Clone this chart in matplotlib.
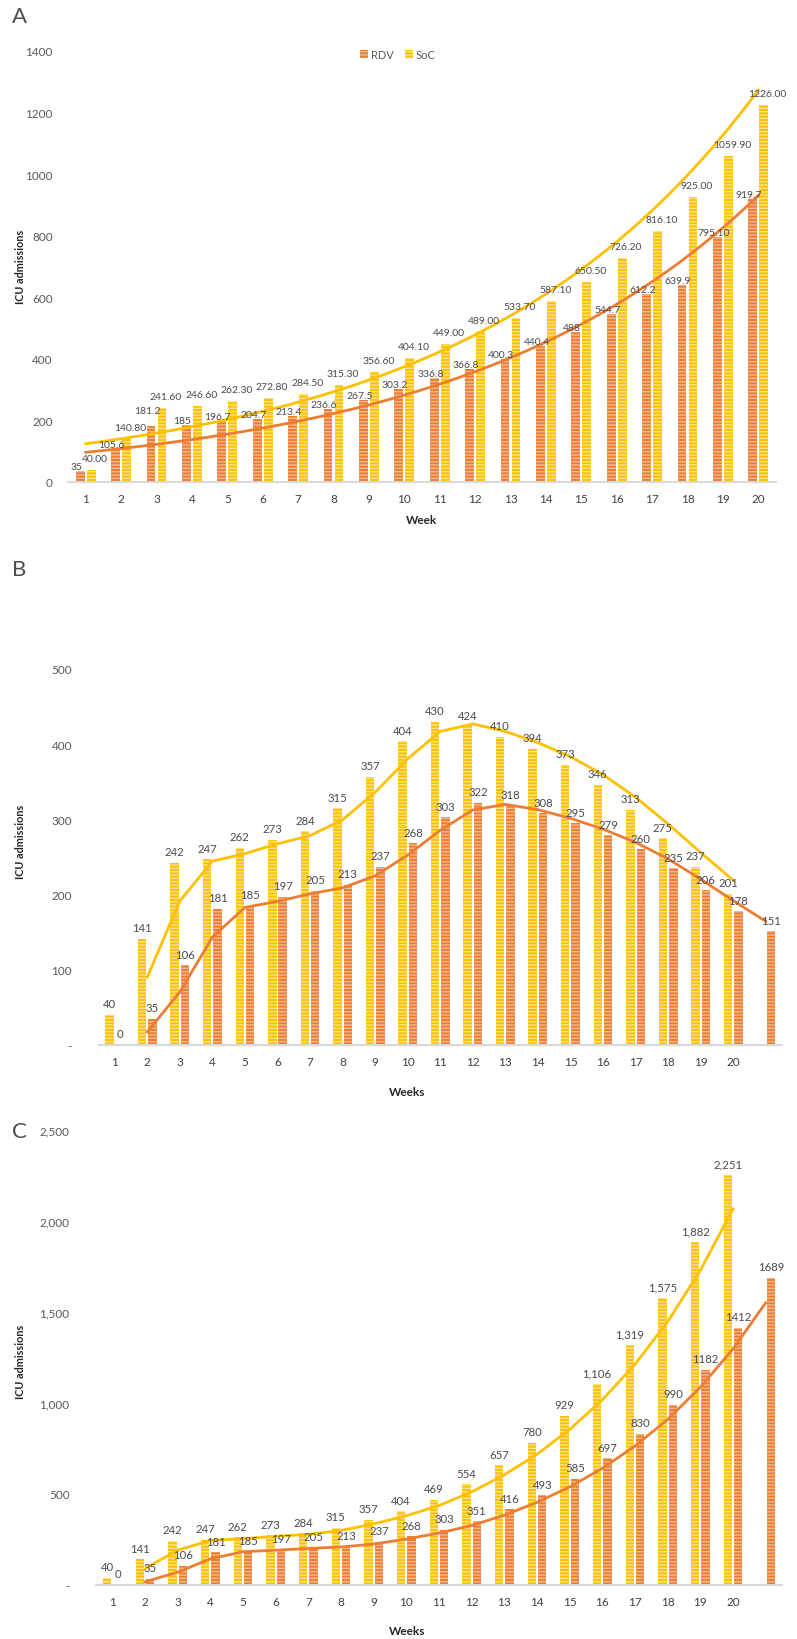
import numpy as np
import matplotlib
matplotlib.use('Agg')
import matplotlib.pyplot as plt
from matplotlib.patches import Patch
from matplotlib.ticker import FuncFormatter

plt.rcParams['font.family'] = ['Lato', 'DejaVu Sans']
plt.rcParams['hatch.linewidth'] = 1.0

# Panel A data
weeks_a = np.arange(1, 21)
rdv_a = [35, 105.6, 181.2, 185, 196.7, 204.7, 213.4, 236.6, 267.5, 303.2,
         336.8, 366.8, 400.3, 440.4, 488, 544.7, 612.2, 639.9, 795.1, 919.7]
rdv_a_labels = ['35', '105.6', '181.2', '185', '196.7', '204.7', '213.4', '236.6', '267.5', '303.2',
                '336.8', '366.8', '400.3', '440.4', '488', '544.7', '612.2', '639.9', '795.10', '919.7']
soc_a = [40.00, 140.80, 241.60, 246.60, 262.30, 272.80, 284.50, 315.30, 356.60, 404.10,
         449.00, 489.00, 533.70, 587.10, 650.50, 726.20, 816.10, 925.00, 1059.90, 1226.00]

# Panel B data
soc_b = [40, 141, 242, 247, 262, 273, 284, 315, 357, 404,
         430, 424, 410, 394, 373, 346, 313, 275, 237, 201]
rdv_b = [0, 35, 106, 181, 185, 197, 205, 213, 237, 268,
         303, 322, 318, 308, 295, 279, 260, 235, 206, 178, 151]

# Panel C data
soc_c = [40, 141, 242, 247, 262, 273, 284, 315, 357, 404,
         469, 554, 657, 780, 929, 1106, 1319, 1575, 1882, 2251]
rdv_c = [0, 35, 106, 181, 185, 197, 205, 213, 237, 268,
         303, 351, 416, 493, 585, 697, 830, 990, 1182, 1412, 1689]

ORANGE = '#ED7D31'
ORANGE_HATCH = '#F6B98E'
YELLOW = '#FFC000'
YELLOW_HATCH = '#FFE38A'
GREY = '#595959'
LABEL_GREY = '#4A4A4A'

W, H = 797, 1640
fig = plt.figure(figsize=(W / 100, H / 100), dpi=100)


def px_axes(x0, x1, y_top, y_bot):
    """Axes from pixel box (x0..x1, y_top..y_bot)."""
    return fig.add_axes([x0 / W, 1 - y_bot / H, (x1 - x0) / W, (y_bot - y_top) / H])


def style_axes(ax):
    for s in ['left', 'top', 'right']:
        ax.spines[s].set_visible(False)
    ax.spines['bottom'].set_color('#D9D9D9')
    ax.spines['bottom'].set_linewidth(1.5)
    ax.tick_params(length=0, labelsize=8.5, labelcolor=GREY)
    ax.tick_params(axis='x', pad=8, labelcolor='#404040')


def striped_bars(ax, x, vals, width, color, hatch_color):
    ax.bar(x, vals, width, color=color, edgecolor=hatch_color,
           hatch='-----', linewidth=0)


def add_labels(ax, x, vals, labels, size=8.5, dy=2, nudge=None):
    nudge = nudge or {}
    for i, (xi, v, t) in enumerate(zip(x, vals, labels)):
        ax.annotate(t, (xi, v), xytext=(0, dy + nudge.get(i, 0)), textcoords='offset points',
                    ha='center', va='bottom', fontsize=size, color=LABEL_GREY)


def moving_avg(vals):
    v = np.array(vals, dtype=float)
    return np.arange(2, len(v) + 1), (v[1:] + v[:-1]) / 2


def accounting(v, pos):
    return '-' if v == 0 else f'{int(v):,}'


# ---------------- Panel A ----------------
axA = px_axes(68, 776, 52, 483)
off, bw = 0.155, 0.25
striped_bars(axA, weeks_a - off, rdv_a, bw, ORANGE, ORANGE_HATCH)
striped_bars(axA, weeks_a + off, soc_a, bw, YELLOW, YELLOW_HATCH)
# labels pushed a little apart, as in the original (181.2 sits higher there)
add_labels(axA, weeks_a - off - 0.11, rdv_a, rdv_a_labels, 7.5, dy=0, nudge={2: 8})
add_labels(axA, weeks_a + off + 0.11, soc_a, [f'{v:.2f}' for v in soc_a], 7.5, dy=5)

# exponential trendlines
xs = np.linspace(1, 20, 200)
for vals, c in [(soc_a, YELLOW), (rdv_a, ORANGE)]:
    k = np.polyfit(weeks_a, np.log(vals), 1)
    axA.plot(xs, np.exp(np.polyval(k, xs)), color=c, lw=2)

axA.set_xlim(0.5, 20.5)
axA.set_ylim(0, 1400)
axA.set_xticks(weeks_a)
axA.set_yticks(range(0, 1401, 200))
style_axes(axA)
axA.tick_params(axis='y', pad=11)

handles = [Patch(facecolor=ORANGE, edgecolor=ORANGE_HATCH, hatch='-----', linewidth=0, label='RDV'),
           Patch(facecolor=YELLOW, edgecolor=YELLOW_HATCH, hatch='-----', linewidth=0, label='SoC')]
axA.legend(handles=handles, loc='center', bbox_to_anchor=(0.466, 0.993), ncol=2,
           frameon=False, handlelength=0.7, handleheight=0.7, handletextpad=0.3,
           columnspacing=1.0, fontsize=8, labelcolor=GREY)


def panel_bc(ax, soc, rdv, ymax, ystep, rdv_labels, soc_labels):
    n = len(rdv)
    x_s = np.arange(1, len(soc) + 1)
    x_r = np.arange(1, n + 1)
    off, bw = 0.16, 0.26
    striped_bars(ax, x_s - off, soc, bw, YELLOW, YELLOW_HATCH)
    striped_bars(ax, x_r + off, rdv, bw, ORANGE, ORANGE_HATCH)
    add_labels(ax, x_s - off, soc, soc_labels, 8.2, dy=4)
    add_labels(ax, x_r + off, rdv, rdv_labels, 8.2, dy=4)
    # 2-period moving average trendlines
    mx, my = moving_avg(soc)
    ax.plot(mx, my, color=YELLOW, lw=2)
    mx, my = moving_avg(rdv)
    ax.plot(mx, my, color=ORANGE, lw=2)
    ax.set_xlim(0.5, n + 0.5)
    ax.set_ylim(0, ymax)
    ax.set_xticks(range(1, 21))
    ax.set_yticks(np.arange(0, ymax + 1, ystep))
    ax.yaxis.set_major_formatter(FuncFormatter(accounting))
    style_axes(ax)
    ax.tick_params(axis='y', pad=19)


# ---------------- Panel B ----------------
axB = px_axes(98.5, 782, 670, 1046)
panel_bc(axB, soc_b, rdv_b, 500, 100,
         [str(v) for v in rdv_b], [str(v) for v in soc_b])

# ---------------- Panel C ----------------
axC = px_axes(96, 782, 1131, 1586)
panel_bc(axC, soc_c, rdv_c, 2500, 500,
         [str(v) for v in rdv_c], [f'{v:,}' for v in soc_c])

# panel letters, axis titles
for letter, y in [('A', 17), ('B', 570), ('C', 1132)]:
    fig.text(19 / W, 1 - y / H, letter, fontsize=16, color='#4D4D4D', ha='center', va='center')

for y in [267, 842, 1362]:
    fig.text(21 / W, 1 - y / H, 'ICU admissions', rotation=90, fontsize=7.8,
             fontweight='bold', color='#262626', ha='center', va='center')

fig.text(422 / W, 1 - 520 / H, 'Week', fontsize=8.5, fontweight='bold',
         color='#262626', ha='center', va='center')
fig.text(407 / W, 1 - 1092 / H, 'Weeks', fontsize=8.5, fontweight='bold',
         color='#262626', ha='center', va='center')
fig.text(407 / W, 1 - 1632 / H, 'Weeks', fontsize=8.5, fontweight='bold',
         color='#262626', ha='center', va='center')

fig.savefig('out.png', dpi=100, facecolor='white')
